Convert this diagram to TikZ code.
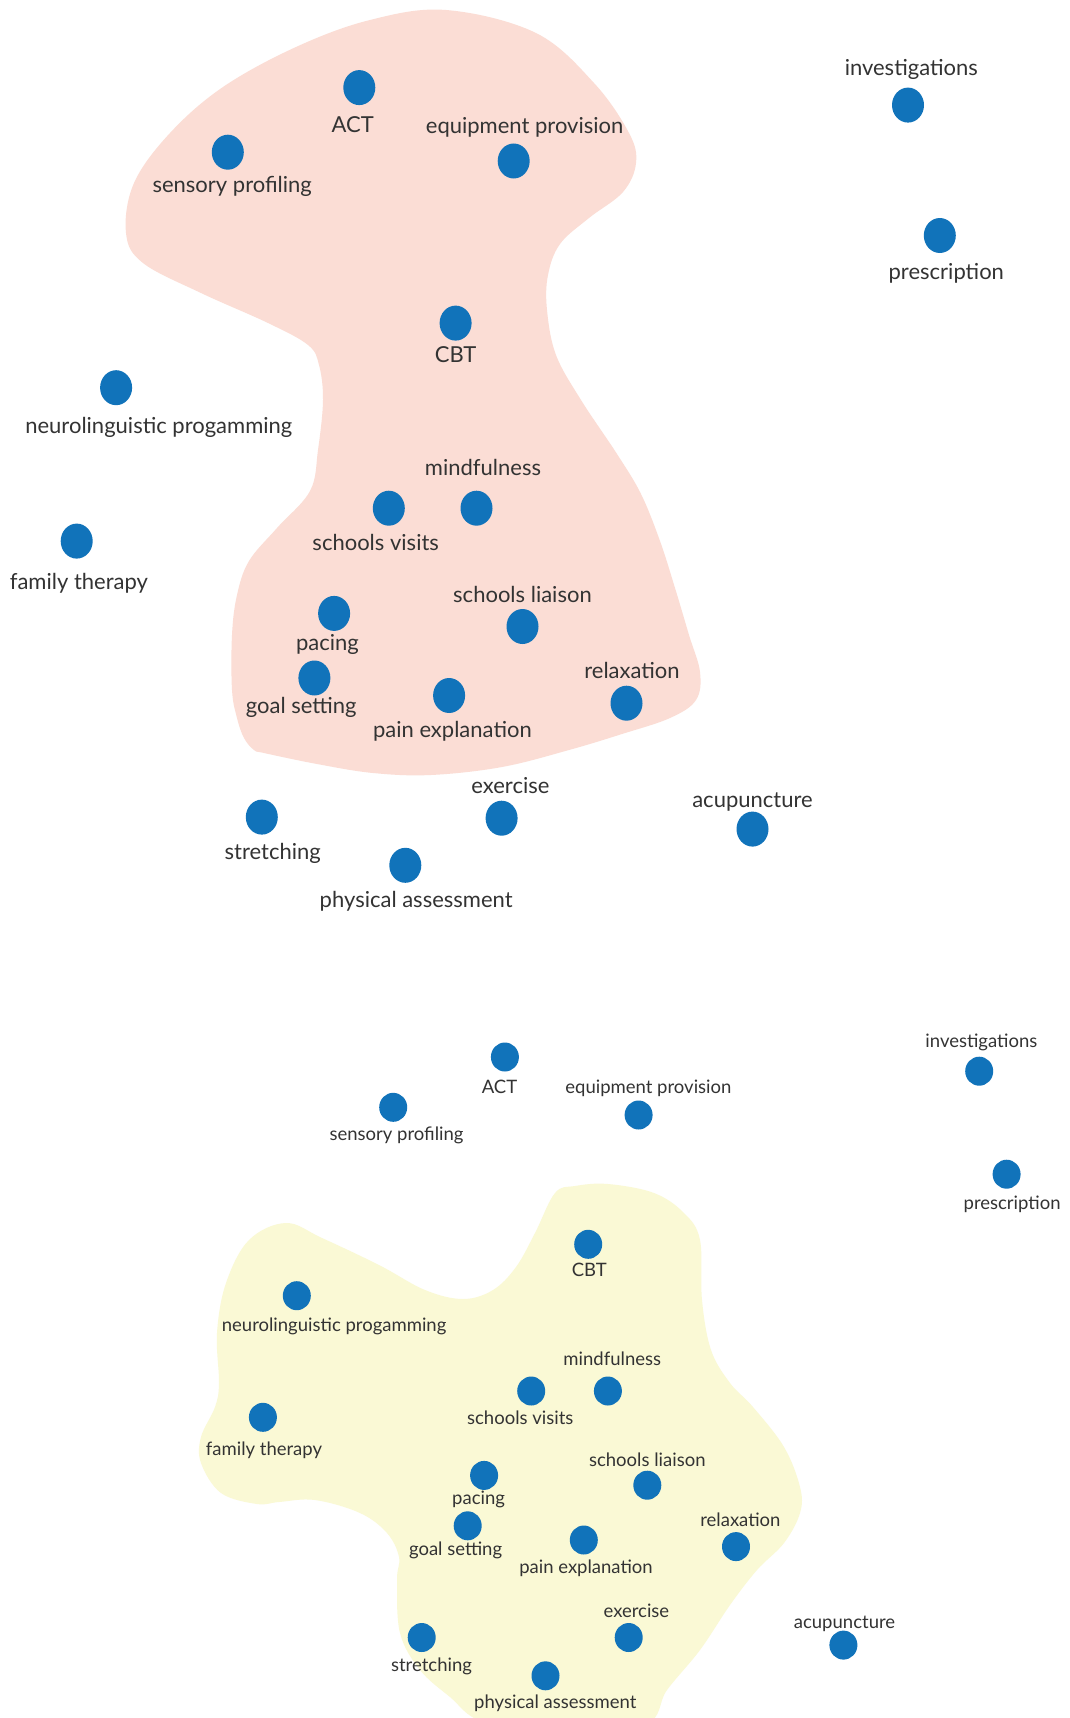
\documentclass[tikz,border=0pt]{standalone}
\usepackage{fontspec}
\setmainfont{Lato}
\usetikzlibrary{shapes.geometric}
\definecolor{dotblue}{HTML}{1173BA}
\definecolor{blobpink}{HTML}{FBDDD5}
\definecolor{blobyellow}{HTML}{FAF9D5}
\definecolor{labgray}{HTML}{333333}
\tikzset{
  dotbig/.style={ellipse, fill=dotblue, inner sep=0pt, minimum width=32pt, minimum height=35pt},
  dotsmall/.style={ellipse, fill=dotblue, inner sep=0pt, minimum width=28pt, minimum height=29pt},
  labbig/.style={anchor=base, inner sep=0pt, text=labgray, font=\fontsize{22}{26}\selectfont},
  labsmall/.style={anchor=base, inner sep=0pt, text=labgray, font=\fontsize{18.5}{22}\selectfont},
}
\begin{document}
\begin{tikzpicture}[x=1pt, y=-1pt]
\useasboundingbox (0,0) rectangle (1069,1718);
\clip (0,0) rectangle (1069,1718);
\fill[white] (0,0) rectangle (1069,1718);

% upper map: highlighted cluster
\fill[blobpink] plot[smooth cycle, tension=0.6] coordinates {
  (446,10) (536,33) (594,83) (629,133) (636,163) (623,192) (589,218) (560,244)
  (548,275) (547,310) (556,355) (581,400) (617,454) (641,494) (660,541) (675,588)
  (689,635) (700,672) (696,700) (670,718) (622,734) (569,750) (502,767) (431,775)
  (373,773) (317,764) (264,753) (254,750) (244,738) (237,718) (232,690) (232,635)
  (237,595) (249,561) (277,528) (310,491) (318,450) (323,400) (319,365) (308,345)
  (268,323) (201,293) (143,263) (126,233) (134,183) (170,133) (223,87) (296,47)
  (370,20)};

% lower map: highlighted cluster
\fill[blobyellow] plot[smooth cycle, tension=0.6] coordinates {
  (286,1223) (322,1238) (379,1265) (425,1290) (463,1299) (493,1290) (516,1267)
  (535,1233) (555,1193) (575,1186) (608,1184) (654,1193) (684,1213) (700,1240)
  (702,1300) (711,1350) (730,1383) (753,1407) (784,1447) (800,1487) (800,1513)
  (784,1543) (757,1570) (730,1605) (700,1650) (667,1690) (645,1725) (560,1735)
  (483,1722) (450,1697) (420,1670) (400,1633) (397,1580) (399,1557) (387,1533)
  (360,1513) (315,1500) (279,1502) (257,1504) (221,1493) (201,1463) (201,1437)
  (215,1407) (219,1383) (217,1333) (226,1283) (249,1240)};

% upper map: treatments
\foreach \nm/\x/\y/\lx/\ly/\txt in {
  a-act/359.3/87.6/352.7/124.9/ACT,
  a-sens/227.8/152.2/232.2/184.0/sensory profiling,
  a-equip/513.7/161.0/524.6/126.0/equipment provision,
  a-inv/908.0/105.1/911.3/67.9/investigations,
  a-presc/939.8/235.5/946.3/271.6/prescription,
  a-cbt/455.6/323.1/455.6/354.9/CBT,
  a-nlp/116.1/387.7/158.8/425.0/neurolinguistic progamming,
  a-mind/476.5/508.2/483.0/467.7/mindfulness,
  a-svis/388.8/508.2/375.7/542.2/schools visits,
  a-fam/76.7/541.1/78.9/581.6/family therapy,
  a-pace/334.1/613.4/327.5/642.9/pacing,
  a-slia/522.5/626.5/522.5/594.7/schools liaison,
  a-goal/314.4/678.0/301.2/705.4/goal setting,
  a-pain/449.1/695.5/452.4/729.5/pain explanation,
  a-relax/626.5/703.2/632.0/670.3/relaxation,
  a-stretch/261.8/817.1/272.7/851.0/stretching,
  a-exer/501.6/818.2/510.4/785.3/exercise,
  a-acu/752.5/829.1/752.5/799.6/acupuncture,
  a-phys/405.3/865.3/416.2/899.2/physical assessment}
{
  \node[dotbig] (\nm) at (\x,\y) {};
  \node[labbig] (\nm-lab) at (\lx,\ly+8) {\txt};
}

% lower map: treatments
\foreach \nm/\x/\y/\lx/\ly/\txt in {
  b-act/504.9/1057.0/499.5/1086.5/ACT,
  b-sens/393.2/1107.3/396.5/1133.6/sensory profiling,
  b-equip/638.6/1115.0/648.4/1086.5/equipment provision,
  b-inv/979.2/1071.2/981.4/1040.5/investigations,
  b-presc/1006.6/1174.2/1012.1/1202.6/prescription,
  b-cbt/588.2/1244.3/589.3/1269.5/CBT,
  b-nlp/296.8/1295.7/334.1/1325.3/neurolinguistic progamming,
  b-mind/607.9/1391.0/612.3/1359.3/mindfulness,
  b-svis/531.2/1391.0/520.3/1418.4/schools visits,
  b-fam/262.9/1417.3/264.0/1449.1/family therapy,
  b-pace/484.1/1475.4/478.6/1498.4/pacing,
  b-slia/647.3/1485.2/647.3/1460.0/schools liaison,
  b-goal/467.7/1525.8/455.6/1548.8/goal setting,
  b-pain/583.8/1540.0/586.0/1567.4/pain explanation,
  b-relax/736.0/1546.6/740.4/1520.3/relaxation,
  b-stretch/421.7/1637.5/431.5/1664.9/stretching,
  b-exer/628.7/1637.5/636.4/1611.2/exercise,
  b-acu/843.4/1645.1/844.5/1622.1/acupuncture,
  b-phys/545.5/1675.8/555.3/1702.1/physical assessment}
{
  \node[dotsmall] (\nm) at (\x,\y) {};
  \node[labsmall] (\nm-lab) at (\lx,\ly+6.5) {\txt};
}
\end{tikzpicture}
\end{document}
